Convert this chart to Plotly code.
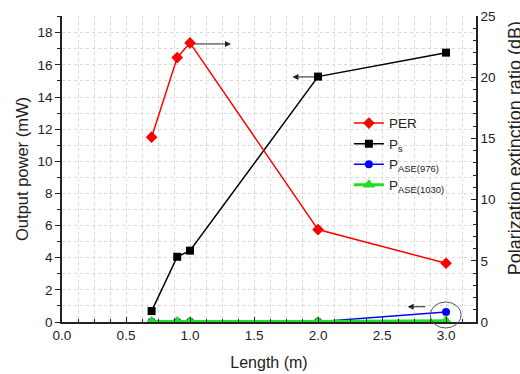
import plotly.graph_objects as go

length_m = [0.7, 0.9, 1.0, 2.0, 3.0]
per_db = [15.1, 21.6, 22.8, 7.55, 4.8]
ps_mw = [0.68, 4.06, 4.44, 15.27, 16.76]
pase976_mw = [0.02, 0.02, 0.02, 0.02, 0.62]
pase1030_mw = [0.03, 0.03, 0.03, 0.03, 0.08]

FONT = "Liberation Sans, Arial, sans-serif"

fig = go.Figure()
fig.add_trace(go.Scatter(x=length_m, y=per_db, name="PER", yaxis="y2",
                         mode="lines+markers", line=dict(color="#ff0000", width=1.5),
                         marker=dict(symbol="diamond", size=9, color="#ff0000")))
fig.add_trace(go.Scatter(x=length_m, y=ps_mw, name="P<sub>s</sub>",
                         mode="lines+markers", line=dict(color="#000000", width=1.5),
                         marker=dict(symbol="square", size=8, color="#000000")))
fig.add_trace(go.Scatter(x=length_m, y=pase976_mw, name="P<sub>ASE(976)</sub>",
                         mode="lines+markers", line=dict(color="#0000ff", width=1.5),
                         marker=dict(symbol="circle", size=8, color="#0000ff")))
fig.add_trace(go.Scatter(x=length_m, y=pase1030_mw, name="P<sub>ASE(1030)</sub>",
                         mode="lines+markers", line=dict(color="#22dd22", width=3),
                         marker=dict(symbol="triangle-up", size=11, color="#22dd22")))

grid = dict(showgrid=True, gridcolor="#d8d8d8", griddash="dot", gridwidth=1)

fig.update_layout(
    width=520, height=374,
    margin=dict(l=62, r=44, t=16, b=52, autoexpand=False),
    paper_bgcolor="white", plot_bgcolor="white",
    font=dict(family=FONT, size=13.5, color="#222"),
    showlegend=True,
    legend=dict(x=0.693, y=0.70, xanchor="left", yanchor="top",
                bgcolor="rgba(0,0,0,0)", font=dict(size=13.5, color="#222"),
                tracegroupgap=0, itemwidth=30),
    xaxis=dict(range=[0, 3.234], dtick=0.5, tick0=0, tickformat=".1f",
               ticks="inside", ticklen=5, tickcolor="#222", automargin=False,
               showline=True, linecolor="#222", linewidth=1.5,
               zeroline=False, mirror=False,
               title=dict(text="Length (m)", font=dict(size=16), standoff=15),
               minor=dict(dtick=0.125, ticks="inside", ticklen=3, tickcolor="#222", **grid),
               **grid),
    yaxis=dict(range=[0, 19.04], dtick=2, tick0=0, automargin=False,
               ticks="outside", ticklen=5, tickcolor="#222",
               showline=True, linecolor="#222", linewidth=1.5, zeroline=False,
               title=dict(text="Output power (mW)", font=dict(size=16.5), standoff=5),
               minor=dict(dtick=1, ticks="outside", ticklen=3, tickcolor="#222", **grid),
               **grid),
    yaxis2=dict(range=[0, 25], dtick=5, tick0=0, overlaying="y", side="right",
                ticks="inside", ticklen=5, tickcolor="#222", automargin=False,
                showline=True, linecolor="#222", linewidth=1.5,
                showgrid=False, zeroline=False,
                minor=dict(dtick=1, ticks="inside", ticklen=3, tickcolor="#222", showgrid=False)),
)

fig.add_annotation(text="Polarization extinction ratio (dB)", textangle=-90,
                   xref="paper", yref="paper", x=1.095, y=0.569,
                   xanchor="center", yanchor="middle", showarrow=False,
                   font=dict(size=18, color="#222"))

arrows = [
    (1.02, 17.3, 1.32, 17.3),
    (1.98, 15.25, 1.80, 15.25),
    (2.85, 0.95, 2.70, 0.95),
]
for x0, y0, x1, y1 in arrows:
    fig.add_annotation(x=x1, y=y1, ax=x0, ay=y0, xref="x", yref="y",
                       axref="x", ayref="y", text="", showarrow=True,
                       arrowhead=2, arrowsize=1.2, arrowwidth=1, arrowcolor="#222")

fig.add_shape(type="circle", xref="paper", yref="paper",
              x0=0.8894, x1=0.9642, y0=-0.0196, y1=0.0654,
              line=dict(color="#555", width=1))

fig.write_html("out.html", config={"displayModeBar": False},
               post_script="document.body.style.margin='0';document.body.style.overflow='hidden';")
